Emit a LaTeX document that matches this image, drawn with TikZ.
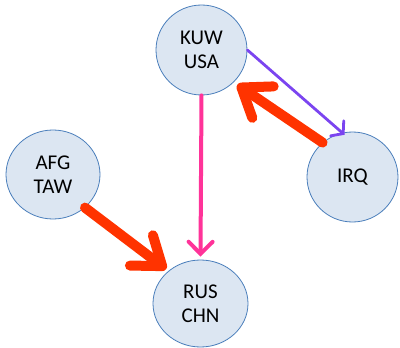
\documentclass[tikz,border=0pt]{standalone}
\usepackage{fontspec}
\setmainfont{Carlito}
\usetikzlibrary{shapes.geometric,arrows.meta}
\definecolor{nodefill}{HTML}{DCE6F2}
\definecolor{nodeline}{HTML}{4A7EBB}
\definecolor{redarrow}{HTML}{FF3300}
\definecolor{pinkarrow}{HTML}{FF3399}
\definecolor{purplearrow}{HTML}{7B44F0}
\tikzset{
  country/.style={ellipse, draw=nodeline, line width=0.8pt, fill=nodefill, inner sep=0pt,
    align=center, font=\fontsize{21}{24}\selectfont},
  bigred/.style={draw=redarrow, line width=10pt, line cap=round, line join=round,
    -{Straight Barb[length=26pt,width=38pt,line cap=round,line join=round]}},
  thinpink/.style={draw=pinkarrow, line width=4pt, line cap=round,
    -{Straight Barb[length=12pt,width=24pt,line cap=round]}},
  thinpurple/.style={draw=purplearrow, line width=2.8pt, line cap=round,
    -{Straight Barb[length=8pt,width=20pt,line cap=round]}}
}
\begin{document}
\begin{tikzpicture}[x=1pt,y=-1pt]
\useasboundingbox (0,0) rectangle (400,348);
\node[country, minimum width=91pt, minimum height=90pt] (kuw) at (201.5,50) {KUW\\USA};
\node[country, minimum width=91pt, minimum height=90pt] (irq) at (352.5,177) {IRQ};
\node[country, minimum width=94pt, minimum height=89pt] (afg) at (53,174.5) {AFG\\TAW};
\node[country, minimum width=95pt, minimum height=87pt] (rus) at (200.5,303.5) {RUS\\CHN};
\draw[thinpurple] (kuw.0) -- ([shift={(-4pt,-3pt)}]irq.95);
\draw[thinpink] (kuw.south) -- ([yshift=3pt]rus.north);
\draw[bigred] (irq.131) -- ([shift={(3pt,-3pt)}]kuw.-44);
\draw[bigred] (afg.-46) -- ([shift={(-2pt,2pt)}]rus.135);
\end{tikzpicture}
\end{document}
